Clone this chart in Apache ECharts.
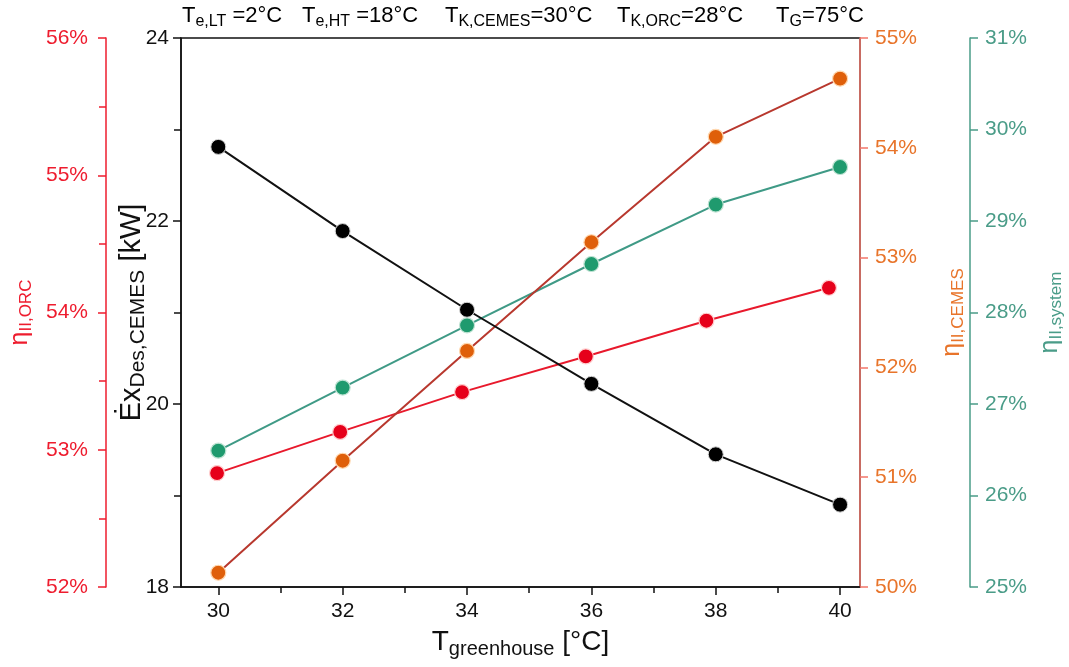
<!DOCTYPE html>
<html>
<head>
<meta charset="utf-8">
<script src="https://cdn.jsdelivr.net/npm/echarts@6/dist/echarts.min.js"></script>
<style>
  html, body { margin: 0; padding: 0; background: #fff; }
  #chart { width: 1069px; height: 667px; }
</style>
</head>
<body>
<div id="chart"></div>
<script>
// Greenhouse temperature (°C)
const tGreenhouse = [30, 32, 34, 36, 38, 40];
// ORC points sit slightly left of the nominal temperatures
const tGreenhouseOrc = [29.98, 31.96, 33.92, 35.91, 37.85, 39.82];

// Exergy destruction of CEMES [kW]
const exDesCemes = [22.81, 21.89, 21.03, 20.22, 19.45, 18.90];
// Second-law efficiencies [%]
const etaOrc = [52.83, 53.13, 53.42, 53.68, 53.94, 54.18];
const etaCemes = [50.13, 51.15, 52.15, 53.14, 54.10, 54.63];
const etaSystem = [26.49, 27.18, 27.86, 28.53, 29.18, 29.59];

const xMajorTicks = [30, 32, 34, 36, 38, 40];
const xMinorTicks = [31, 33, 35, 37, 39];

// Operating conditions shown above the plot: [main, subscript, value]
const conditions = [
  ['T', 'e,LT', ' =2°C'],
  ['T', 'e,HT', ' =18°C'],
  ['T', 'K,CEMES', '=30°C'],
  ['T', 'K,ORC', '=28°C'],
  ['T', 'G', '=75°C']
];
const conditionX = [182, 302, 445, 617, 776];

const FONT = 'Liberation Sans, Arial, sans-serif';
const C_BLACK = '#111111';
const C_RED = '#ee1c2e';
const C_ORANGE_LBL = '#e8742a';
const C_ORANGE_AXIS = '#f2766a';
const C_GREEN = '#4a9c88';

function richSet(color, big, small, pad) {
  return {
    m: { fontFamily: FONT, fontSize: big, color: color, lineHeight: big + pad },
    s: { fontFamily: FONT, fontSize: small, color: color, lineHeight: small, padding: [pad, 0, 0, 0] }
  };
}

const chart = echarts.init(document.getElementById('chart'), null, { renderer: 'canvas' });

function yAxisBase(color, lineColor) {
  return {
    type: 'value',
    splitLine: { show: false },
    axisLine: { show: true, lineStyle: { color: lineColor, width: 1.5 } },
    axisTick: { show: true, inside: false, length: 8, lineStyle: { color: lineColor, width: 1.5 } },
    axisLabel: { color: color, fontFamily: FONT, fontSize: 21 },
    nameLocation: 'middle',
    nameRotate: 90,
    nameMoveOverlap: false
  };
}

const option = {
  backgroundColor: '#ffffff',
  animation: false,
  grid: {
    left: 181, right: 209, top: 38, bottom: 80,
    outerBoundsMode: 'none',
    containLabel: false,
    show: true, borderColor: C_BLACK, borderWidth: 1.5, backgroundColor: 'transparent'
  },
  xAxis: [
    {
      type: 'value',
      min: 29.4,
      max: 40.32,
      splitLine: { show: false },
      axisLine: { show: true, onZero: false, lineStyle: { color: C_BLACK, width: 1.5 } },
      axisTick: { show: true, length: 8, customValues: xMajorTicks, lineStyle: { color: C_BLACK, width: 1.5 } },
      axisLabel: { customValues: xMajorTicks, color: C_BLACK, fontFamily: FONT, fontSize: 21, margin: 14 },
      name: '{m|T}{s|greenhouse}{m| [°C]}',
      nameLocation: 'middle',
      nameMoveOverlap: false,
      nameGap: 34,
      nameTextStyle: { rich: richSet(C_BLACK, 28, 20, 14) }
    },
    {
      type: 'value',
      min: 29.4,
      max: 40.32,
      position: 'bottom',
      splitLine: { show: false },
      axisLine: { show: false, onZero: false },
      axisTick: { show: true, length: 6, customValues: xMinorTicks, lineStyle: { color: C_BLACK, width: 1.5 } },
      axisLabel: { show: false }
    }
  ],
  yAxis: [
    Object.assign(yAxisBase(C_BLACK, C_BLACK), {
      position: 'left', offset: 0,
      min: 18, max: 24, interval: 2,
      minorTick: { show: true, splitNumber: 2, length: 7, lineStyle: { color: C_BLACK, width: 1.5 } },
      axisLabel: { color: C_BLACK, fontFamily: FONT, fontSize: 21, margin: 12 },
      name: '{m|Ėx}{s|Des,CEMES}{m| [kW]}',
      nameGap: 28,
      nameTextStyle: { rich: richSet(C_BLACK, 29, 21, 14) }
    }),
    Object.assign(yAxisBase(C_RED, C_RED), {
      position: 'left', offset: 75,
      min: 52, max: 56, interval: 1,
      minorTick: { show: true, splitNumber: 2, length: 7, lineStyle: { color: C_RED, width: 1.5 } },
      axisLabel: { color: C_RED, fontFamily: FONT, fontSize: 21, margin: 18, formatter: '{value}%' },
      name: '{m|η}{s|II,ORC}',
      nameGap: 67,
      nameTextStyle: { rich: richSet(C_RED, 25, 17, 12) }
    }),
    Object.assign(yAxisBase(C_ORANGE_LBL, C_ORANGE_AXIS), {
      position: 'right', offset: 0,
      min: 50, max: 55, interval: 1,
      axisLabel: { color: C_ORANGE_LBL, fontFamily: FONT, fontSize: 21, margin: 15, formatter: '{value}%' },
      name: '{m|η}{s|II,CEMES}',
      nameGap: 74,
      nameTextStyle: { rich: richSet(C_ORANGE_LBL, 25, 17, 12) }
    }),
    Object.assign(yAxisBase(C_GREEN, C_GREEN), {
      position: 'right', offset: 110,
      min: 25, max: 31, interval: 1,
      axisLabel: { color: C_GREEN, fontFamily: FONT, fontSize: 21, margin: 15, formatter: '{value}%' },
      name: '{m|η}{s|II,system}',
      nameGap: 62,
      nameTextStyle: { rich: richSet(C_GREEN, 25, 17, 12) }
    })
  ],
  series: [
    {
      name: 'etaSystem', type: 'line', xAxisIndex: 0, yAxisIndex: 3,
      data: tGreenhouse.map((x, i) => [x, etaSystem[i]]),
      symbol: 'circle', symbolSize: 15,
      lineStyle: { color: '#3f9a86', width: 2 },
      itemStyle: { color: '#1f9a6e', borderColor: '#bfe3d3', borderWidth: 1.2 }
    },
    {
      name: 'etaOrc', type: 'line', xAxisIndex: 0, yAxisIndex: 1,
      data: tGreenhouseOrc.map((x, i) => [x, etaOrc[i]]),
      symbol: 'circle', symbolSize: 15,
      lineStyle: { color: '#e8192c', width: 2 },
      itemStyle: { color: '#e6001a', borderColor: '#ffd0d0', borderWidth: 1.2 }
    },
    {
      name: 'etaCemes', type: 'line', xAxisIndex: 0, yAxisIndex: 2,
      data: tGreenhouse.map((x, i) => [x, etaCemes[i]]),
      symbol: 'circle', symbolSize: 15,
      lineStyle: { color: '#b8382e', width: 2 },
      itemStyle: { color: '#df5f0a', borderColor: '#ffd8b0', borderWidth: 1.2 }
    },
    {
      name: 'exDes', type: 'line', xAxisIndex: 0, yAxisIndex: 0,
      data: tGreenhouse.map((x, i) => [x, exDesCemes[i]]),
      symbol: 'circle', symbolSize: 15,
      lineStyle: { color: C_BLACK, width: 2 },
      itemStyle: { color: '#000000', borderColor: '#d8d8d8', borderWidth: 1 }
    }
  ],
  graphic: conditions.map((c, i) => ({
    type: 'text',
    left: conditionX[i],
    top: 2,
    style: {
      text: '{m|' + c[0] + '}{s|' + c[1] + '}{m|' + c[2] + '}',
      rich: richSet(C_BLACK, 22, 16, 12)
    }
  }))
};

chart.setOption(option);
</script>
</body>
</html>
